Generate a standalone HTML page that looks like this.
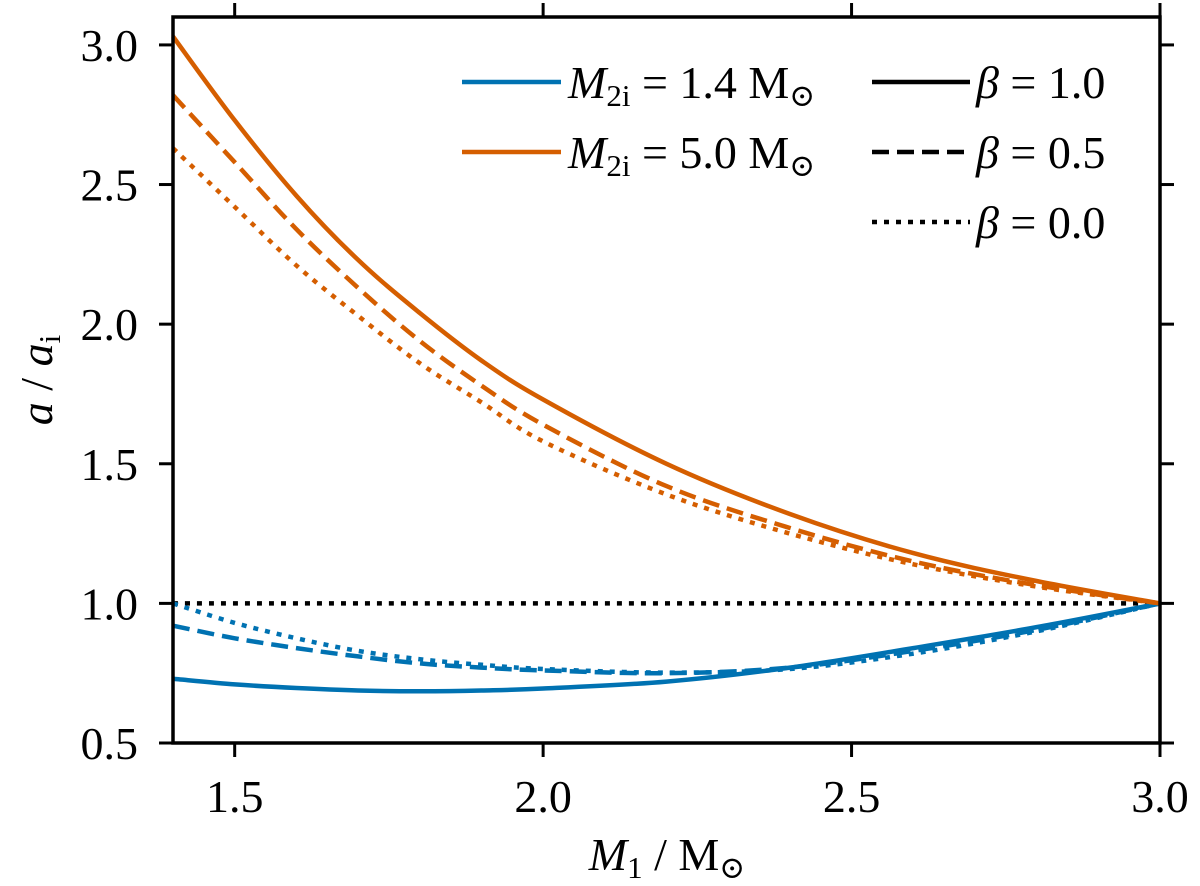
<!DOCTYPE html>
<html><head><meta charset="utf-8"><style>
html,body{margin:0;padding:0;background:#fff;width:1200px;height:886px;overflow:hidden}
svg{display:block;font-family:"Liberation Serif","DejaVu Serif",serif}
</style></head><body>
<svg id="chart" width="1200" height="886" viewBox="0 0 1200 886" xmlns="http://www.w3.org/2000/svg">
<g id="plot"></g>
<g id="axes"></g>
<text x="667" y="870" font-size="46" text-anchor="middle"><tspan font-style="italic">M</tspan><tspan font-size="31" dy="8">1</tspan><tspan dy="-8"> / M</tspan><tspan font-size="31" dy="8">⊙</tspan></text>
<text transform="translate(52,380) rotate(-90)" font-size="46" text-anchor="middle"><tspan font-style="italic">a</tspan><tspan> / </tspan><tspan font-style="italic">a</tspan><tspan font-size="31" dy="8">i</tspan></text>
<g id="legend"></g>
</svg>
<script>
const masses = [1.4,1.5,1.6,1.7,1.8,1.9,2.0,2.2,2.4,2.6,2.8,3.0];
const orangeSolid  = [3.03,2.73,2.46,2.23,2.04,1.87,1.73,1.50,1.32,1.18,1.08,1.0];
const orangeDashed = [2.82,2.58,2.34,2.13,1.94,1.78,1.64,1.42,1.27,1.15,1.065,1.0];
const orangeDotted = [2.63,2.42,2.21,2.03,1.86,1.72,1.58,1.39,1.25,1.14,1.06,1.0];
const blueSolid  = [0.73,0.71,0.697,0.688,0.685,0.688,0.695,0.72,0.77,0.84,0.915,1.0];
const blueDashed = [0.92,0.875,0.84,0.81,0.785,0.77,0.76,0.75,0.77,0.83,0.905,1.0];
const blueDotted = [1.0,0.93,0.875,0.83,0.80,0.78,0.765,0.752,0.765,0.82,0.9,1.0];
const refLine = [1.0,1.0];
const refMasses = [1.4,3.0];
const xTicks = [1.5,2.0,2.5,3.0];
const xTickLabels = ["1.5","2.0","2.5","3.0"];
const yTicks = [0.5,1.0,1.5,2.0,2.5,3.0];
const yTickLabels = ["0.5","1.0","1.5","2.0","2.5","3.0"];

const NS="http://www.w3.org/2000/svg";
const X0=173,X1=1160,Y0=743,Y1=17,xmin=1.4,xmax=3.0,ymin=0.5,ymax=3.1;
const xs=v=>X0+(v-xmin)/(xmax-xmin)*(X1-X0);
const ys=v=>Y0-(v-ymin)/(ymax-ymin)*(Y0-Y1);
function mk(tag,attrs,parent){const e=document.createElementNS(NS,tag);for(const k in attrs)e.setAttribute(k,attrs[k]);parent.appendChild(e);return e;}
function smoothPath(xv,yv){
  const p=xv.map((x,i)=>[xs(x),ys(yv[i])]);
  let d="M"+p[0][0].toFixed(1)+","+p[0][1].toFixed(1);
  for(let i=0;i<p.length-1;i++){
    const p0=p[i-1]||p[i],p1=p[i],p2=p[i+1],p3=p[i+2]||p2;
    const c1=[p1[0]+(p2[0]-p0[0])/6,p1[1]+(p2[1]-p0[1])/6];
    const c2=[p2[0]-(p3[0]-p1[0])/6,p2[1]-(p3[1]-p1[1])/6];
    d+=" C"+c1.map(n=>n.toFixed(1))+" "+c2.map(n=>n.toFixed(1))+" "+p2.map(n=>n.toFixed(1));
  }
  return d;
}
const plot=document.getElementById('plot');
const BLUE="#0072b2",ORANGE="#d55e00";
const DASH="17,8",DOT="5,7";
const series=[
  ["blue-solid-line",blueSolid,BLUE,null],
  ["blue-dashed-line",blueDashed,BLUE,DASH],
  ["blue-dotted-line",blueDotted,BLUE,DOT],
  ["orange-solid-line",orangeSolid,ORANGE,null],
  ["orange-dashed-line",orangeDashed,ORANGE,DASH],
  ["orange-dotted-line",orangeDotted,ORANGE,DOT]
];
const ref=mk('path',{d:smoothPath(refMasses,refLine),stroke:"#000","stroke-width":4.5,fill:"none","stroke-dasharray":DOT},plot);


series.forEach(s=>{
  const a={d:smoothPath(masses,s[1]),stroke:s[2],"stroke-width":4.5,fill:"none"};
  if(s[3])a["stroke-dasharray"]=s[3];
  const e=mk('path',a,plot);
  
  
});
const axes=document.getElementById('axes');
const frame=mk('rect',{x:X0,y:Y1,width:X1-X0,height:Y0-Y1,fill:"none",stroke:"#000","stroke-width":3.5},axes);


xTicks.forEach((v,i)=>{
  const x=xs(v);
  mk('line',{x1:x,y1:Y0,x2:x,y2:Y0+14,stroke:"#000","stroke-width":3},axes);
  mk('line',{x1:x,y1:Y1,x2:x,y2:Y1-14,stroke:"#000","stroke-width":3},axes);
  const t=mk('text',{x:x,y:812,"font-size":46,"text-anchor":"middle"},axes);
  t.textContent=xTickLabels[i];
  
  
});
yTicks.forEach((v,i)=>{
  const y=ys(v);
  mk('line',{x1:X0,y1:y,x2:X0-14,y2:y,stroke:"#000","stroke-width":3},axes);
  mk('line',{x1:X1,y1:y,x2:X1+14,y2:y,stroke:"#000","stroke-width":3},axes);
  const t=mk('text',{x:138,y:y+16,"font-size":46,"text-anchor":"end"},axes);
  t.textContent=yTickLabels[i];
  
  
});
const leg=document.getElementById('legend');
function entry(name,x1,x2,y,color,dash,html,tx){
  const g=mk('g',{},leg);
  
  
  const a={x1:x1,y1:y,x2:x2,y2:y,stroke:color,"stroke-width":4.5};
  if(dash)a["stroke-dasharray"]=dash;
  mk('line',a,g);
  const t=mk('text',{x:tx,y:y+16,"font-size":46},g);
  t.innerHTML=html;
}
entry('legend-entry-m2i-1.4',462,561,82,BLUE,null,'<tspan font-style="italic">M</tspan><tspan font-size="31" dy="8">2i</tspan><tspan dy="-8"> = 1.4 M</tspan><tspan font-size="31" dy="8">⊙</tspan>',568);
entry('legend-entry-m2i-5.0',462,561,152,ORANGE,null,'<tspan font-style="italic">M</tspan><tspan font-size="31" dy="8">2i</tspan><tspan dy="-8"> = 5.0 M</tspan><tspan font-size="31" dy="8">⊙</tspan>',568);
entry('legend-entry-beta-1.0',872,970,82,"#000",null,'<tspan font-style="italic">β</tspan> = 1.0',976);
entry('legend-entry-beta-0.5',872,970,152,"#000",DASH,'<tspan font-style="italic">β</tspan> = 0.5',976);
entry('legend-entry-beta-0.0',872,970,222,"#000",DOT,'<tspan font-style="italic">β</tspan> = 0.0',976);
</script>
</body></html>
